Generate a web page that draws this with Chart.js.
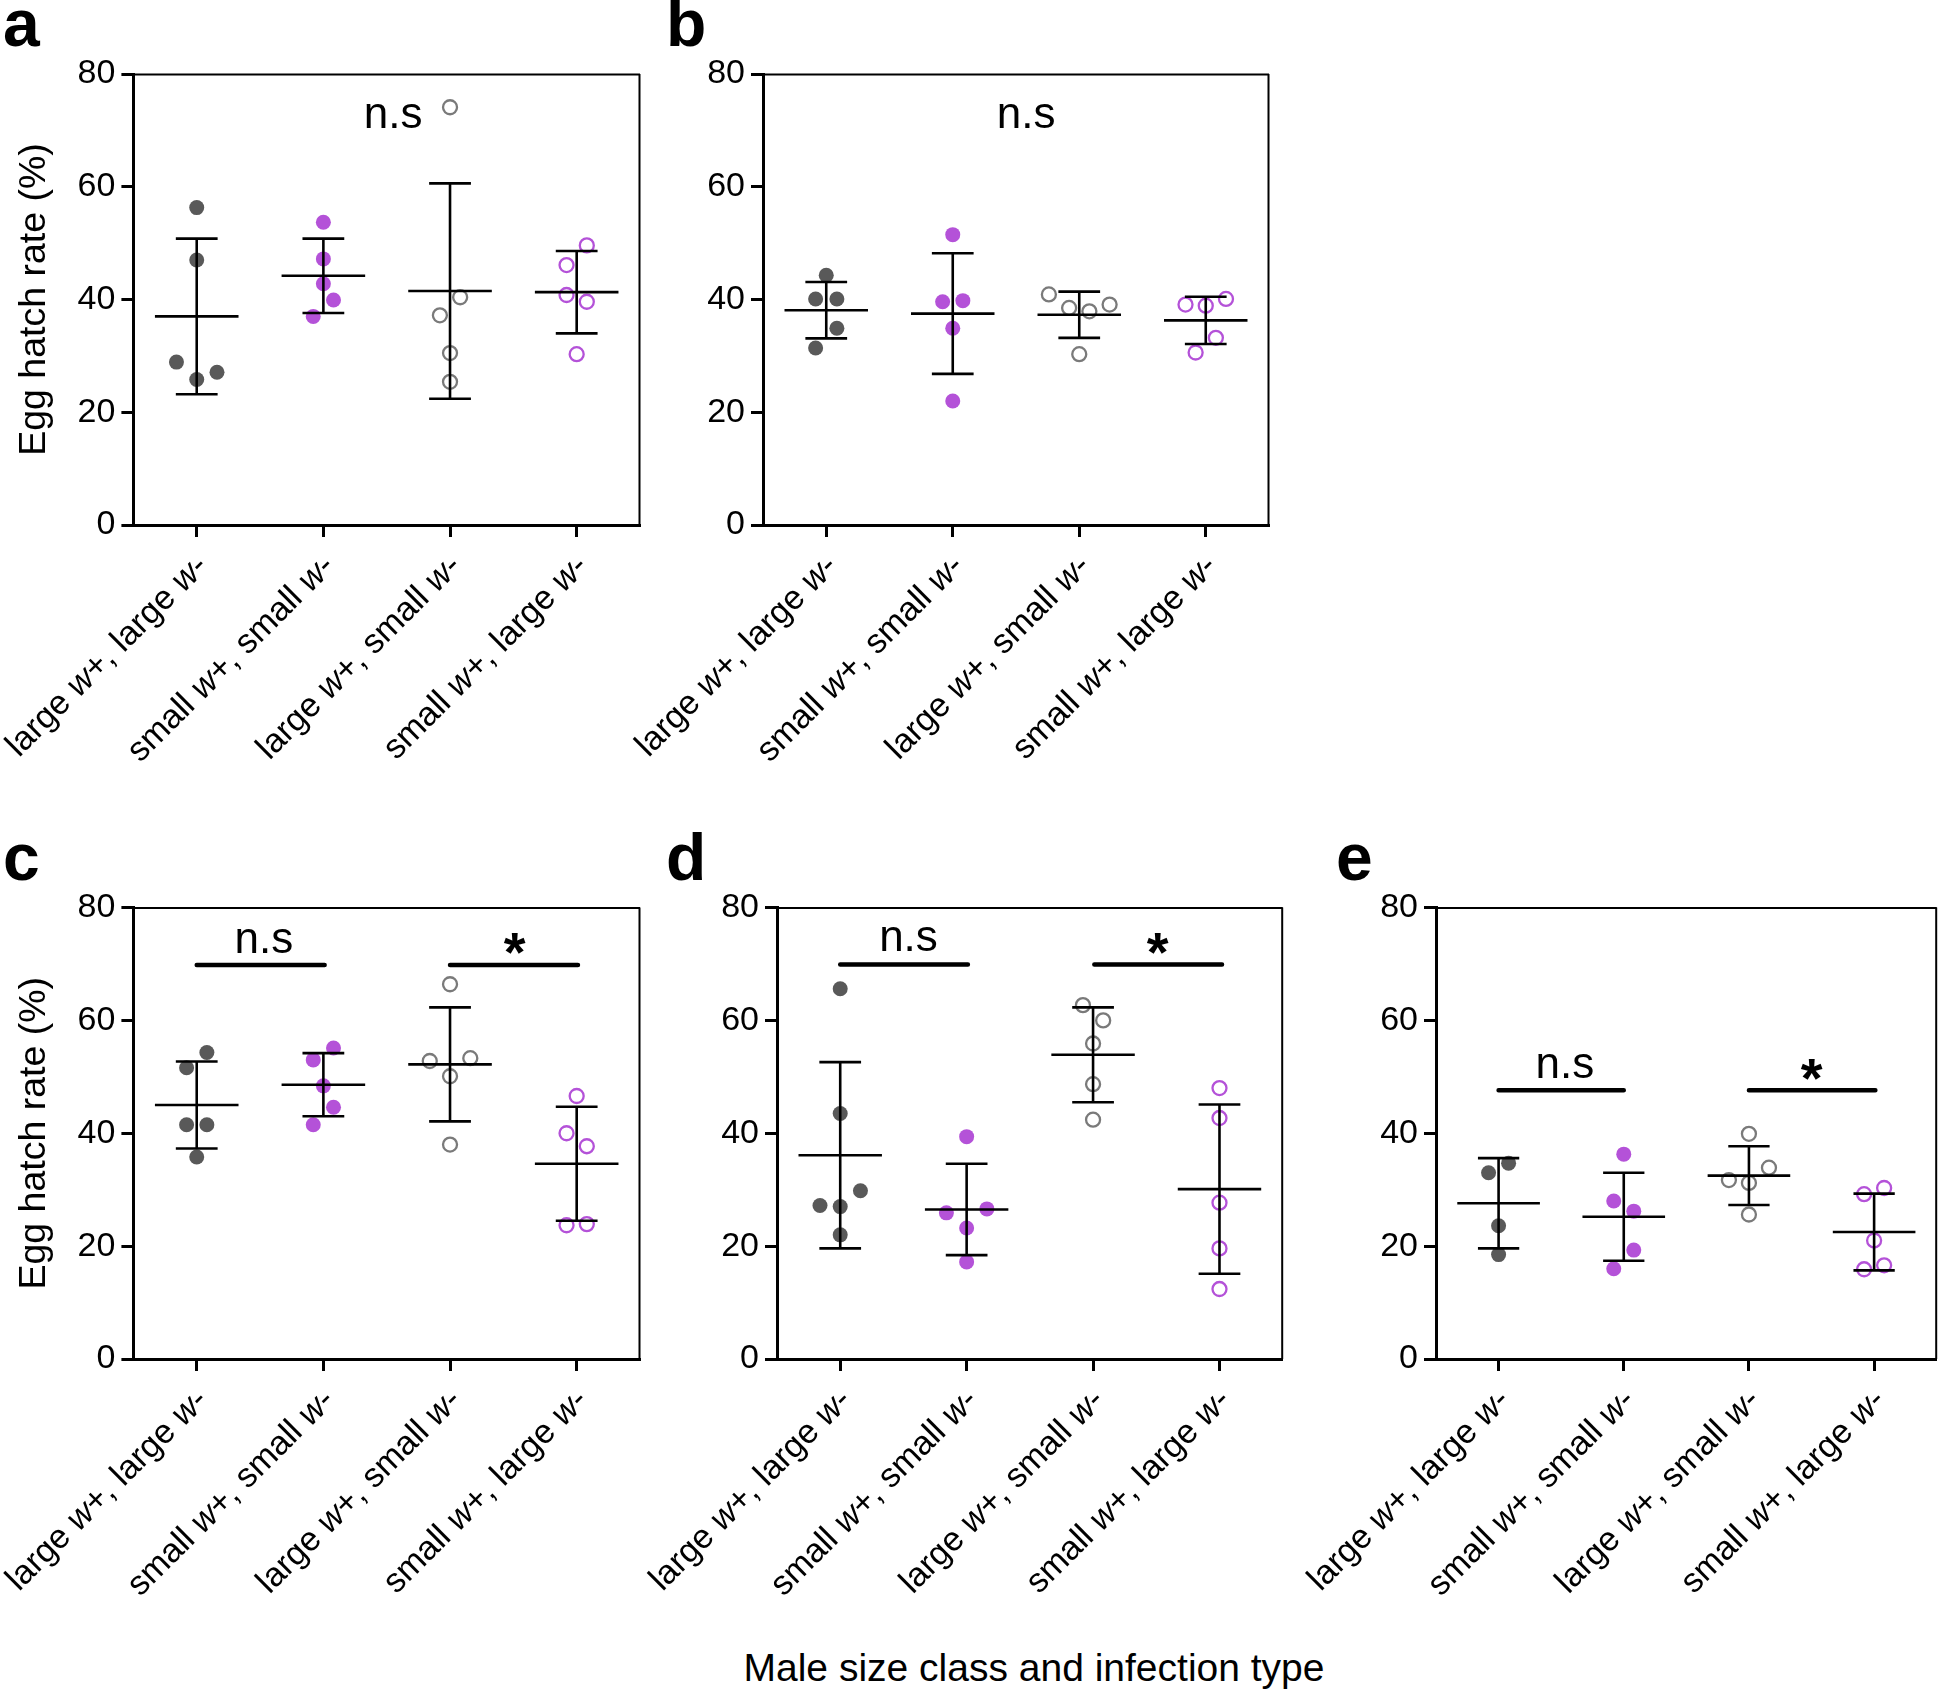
<!DOCTYPE html>
<html>
<head>
<meta charset="utf-8">
<script src="https://cdn.jsdelivr.net/npm/chart.js@4.4.1/dist/chart.umd.min.js"></script>
<style>
html,body{margin:0;padding:0;background:#fff;}
body{width:1946px;height:1691px;overflow:hidden;position:relative;font-family:"Liberation Sans",Arial,sans-serif;}
canvas{position:absolute;}
.plet{position:absolute;font-weight:bold;font-size:66px;line-height:66px;color:#000;}
#xtitle{position:absolute;left:684px;width:700px;top:1648px;text-align:center;font-size:39px;line-height:39px;color:#000;}
</style>
</head>
<body>
<div class="plet" style="left:3px;top:-10px;">a</div>
<div class="plet" style="left:666px;top:-10px;">b</div>
<div class="plet" style="left:3px;top:824px;">c</div>
<div class="plet" style="left:666px;top:824px;">d</div>
<div class="plet" style="left:1336px;top:824px;">e</div>
<div id="xtitle">Male size class and infection type</div>

<canvas id="ca" width="680" height="800" style="left:0px;top:0px;"></canvas>
<canvas id="cb" width="700" height="800" style="left:600px;top:0px;"></canvas>
<canvas id="cc" width="680" height="861" style="left:0px;top:830px;"></canvas>
<canvas id="cd" width="700" height="861" style="left:600px;top:830px;"></canvas>
<canvas id="ce" width="686" height="861" style="left:1260px;top:830px;"></canvas>

<script>
// ---------------- DATA ----------------
const categories = ['large w+, large w-', 'small w+, small w-', 'large w+, small w-', 'small w+, large w-'];
const yTickValues = [0, 20, 40, 60, 80];
const yAxisTitle = 'Egg hatch rate (%)';

// Panel a
const aValues = [
  [56.3, 47.0, 28.9, 25.8, 27.1],
  [53.7, 47.2, 42.8, 39.9, 37.0],
  [74.1, 40.4, 37.2, 30.5, 25.4],
  [49.6, 46.1, 40.8, 39.6, 30.3]
];
const aJitter = [
  [0, 0, -0.16, 0, 0.16],
  [0, 0, 0, 0.08, -0.08],
  [0, 0.08, -0.08, 0, 0],
  [0.08, -0.08, -0.08, 0.08, 0]
];
const aMean = [37.0, 44.2, 41.5, 41.3];
const aSD = [13.8, 6.6, 19.1, 7.3];
const aBrackets = [];
const aTexts = [['n.s', 2.55, 72.5]];

// Panel b
const bValues = [
  [44.3, 40.1, 40.1, 34.9, 31.4],
  [51.5, 39.6, 39.8, 34.9, 22.0],
  [40.9, 38.5, 37.9, 39.1, 30.3],
  [39.1, 38.9, 40.1, 33.2, 30.6]
];
const bJitter = [
  [0, -0.084, 0.084, 0.084, -0.084],
  [0, -0.08, 0.08, 0, 0],
  [-0.24, -0.08, 0.08, 0.24, 0],
  [-0.16, 0, 0.16, 0.08, -0.08]
];
const bMean = [38.1, 37.5, 37.3, 36.3];
const bSD = [5.0, 10.7, 4.1, 4.2];
const bBrackets = [];
const bTexts = [['n.s', 2.58, 72.5]];

// Panel c
const cValues = [
  [54.3, 51.6, 41.5, 41.5, 35.8],
  [55.1, 53.0, 48.4, 44.6, 41.5],
  [66.4, 52.8, 53.3, 50.1, 38.0],
  [46.6, 40.0, 37.7, 23.7, 23.9]
];
const cJitter = [
  [0.08, -0.08, -0.08, 0.08, 0],
  [0.08, -0.08, 0, 0.08, -0.08],
  [0, -0.16, 0.16, 0, 0],
  [0, -0.08, 0.08, -0.08, 0.08]
];
const cMean = [45.0, 48.6, 52.2, 34.6];
const cSD = [7.7, 5.6, 10.1, 10.1];
const cBrackets = [[1, 2.01, 69.8], [3, 4.01, 69.8]];
const cTexts = [['n.s', 1.53, 74.1], ['*', 3.51, 73.6]];

// Panel d
const dValues = [
  [65.6, 43.5, 29.8, 27.2, 27.0, 22.0],
  [39.4, 25.9, 26.6, 23.2, 17.2],
  [62.7, 60.0, 55.9, 48.7, 42.4],
  [48.0, 42.7, 27.7, 19.6, 12.4]
];
const dJitter = [
  [0, 0, 0.16, -0.16, 0, 0],
  [0, -0.16, 0.16, 0, 0],
  [-0.08, 0.08, 0, 0, 0],
  [0, 0, 0, 0, 0]
];
const dMean = [36.1, 26.5, 53.9, 30.1];
const dSD = [16.5, 8.1, 8.4, 15.0];
const dBrackets = [[1, 2.01, 69.9], [3.01, 4.02, 69.9]];
const dTexts = [['n.s', 1.54, 74.4], ['*', 3.51, 73.6]];

// Panel e
const eValues = [
  [34.7, 33.0, 23.6, 18.5],
  [36.3, 28.0, 26.2, 19.3, 16.0],
  [39.9, 33.9, 31.7, 31.2, 25.6],
  [30.3, 29.2, 21.0, 16.6, 15.9]
];
const eJitter = [
  [0.08, -0.08, 0, 0],
  [0, -0.08, 0.08, 0.08, -0.08],
  [0, 0.16, -0.16, 0, 0],
  [0.08, -0.08, 0, 0.08, -0.08]
];
const eMean = [27.6, 25.2, 32.5, 22.5];
const eSD = [8.0, 7.8, 5.2, 6.8];
const eBrackets = [[1, 2.0, 47.6], [3, 4.01, 47.6]];
const eTexts = [['n.s', 1.53, 51.9], ['*', 3.5, 51.3]];

// ---------------- STYLE ----------------
const FONT = '"Liberation Sans", Arial, sans-serif';
Chart.defaults.font.family = FONT;
const DARK = '#595959', PURPLE = '#b452d8', GREY = '#7a7a7a';
const groupStyles = [
  {fill: DARK, stroke: DARK, r: 7.5, bw: 0},
  {fill: PURPLE, stroke: PURPLE, r: 7.5, bw: 0},
  {fill: 'rgba(255,255,255,0)', stroke: GREY, r: 7, bw: 2.3},
  {fill: 'rgba(255,255,255,0)', stroke: PURPLE, r: 7, bw: 2.3}
];

function drawCatLabel(ctx, text, x, y) {
  const parts = text.split(/(w(?=[+\-]))/).filter(s => s.length);
  const fN = '34px ' + FONT, fI = 'italic 34px ' + FONT;
  const widths = parts.map(p => { ctx.font = (p === 'w') ? fI : fN; return ctx.measureText(p).width; });
  const total = widths.reduce((a, b) => a + b, 0);
  ctx.save();
  ctx.translate(x, y);
  ctx.rotate(-Math.PI / 4);
  ctx.textBaseline = 'middle';
  ctx.textAlign = 'left';
  ctx.fillStyle = '#000';
  let cx = -total;
  parts.forEach((p, i) => { ctx.font = (p === 'w') ? fI : fN; ctx.fillText(p, cx, 0); cx += widths[i]; });
  ctx.restore();
}

function drawCenteredText(ctx, text, font, px, py) {
  ctx.save();
  ctx.font = font;
  ctx.fillStyle = '#000';
  ctx.textAlign = 'center';
  ctx.textBaseline = 'alphabetic';
  const m = ctx.measureText(text);
  const base = py + (m.actualBoundingBoxAscent - m.actualBoundingBoxDescent) / 2;
  ctx.fillText(text, px, base);
  ctx.restore();
}

function buildChart(id, p) {
  const datasets = [];
  p.values.forEach((vals, g) => {
    const st = groupStyles[g];
    datasets.push({
      type: 'scatter',
      data: vals.map((v, i) => ({x: g + 1 + p.jitter[g][i], y: v})),
      pointRadius: st.r, pointHoverRadius: st.r,
      pointBackgroundColor: st.fill, pointBorderColor: st.stroke, pointBorderWidth: st.bw,
      showLine: false, order: 3
    });
  });
  const eb = [];
  p.mean.forEach((m, g) => {
    const c = g + 1, s = p.sd[g];
    eb.push({x: c - 0.33, y: m}, {x: c + 0.33, y: m}, {x: c, y: null},
            {x: c, y: m - s}, {x: c, y: m + s}, {x: c, y: null},
            {x: c - 0.165, y: m + s}, {x: c + 0.165, y: m + s}, {x: c, y: null},
            {x: c - 0.165, y: m - s}, {x: c + 0.165, y: m - s}, {x: c, y: null});
  });
  datasets.push({type: 'line', data: eb, borderColor: '#000', borderWidth: 2.6, pointRadius: 0,
    pointHoverRadius: 0, spanGaps: false, fill: false, tension: 0, order: 1, borderCapStyle: 'butt'});
  if (p.brackets.length) {
    const br = [];
    p.brackets.forEach(b => { br.push({x: b[0], y: b[2]}, {x: b[1], y: b[2]}, {x: b[0], y: null}); });
    datasets.push({type: 'line', data: br, borderColor: '#000', borderWidth: 4.5, pointRadius: 0,
      pointHoverRadius: 0, spanGaps: false, fill: false, tension: 0, order: 0, borderCapStyle: 'round'});
  }

  const decor = {
    id: 'decor' + id,
    afterDraw(chart) {
      const ctx = chart.ctx, a = chart.chartArea;
      const xs = chart.scales.x, ys = chart.scales.y;
      ctx.save();
      ctx.strokeStyle = '#000';
      ctx.lineWidth = 2;
      ctx.beginPath();
      ctx.moveTo(a.left, a.top + 0.5); ctx.lineTo(a.right, a.top + 0.5);
      ctx.moveTo(a.right - 0.5, a.top); ctx.lineTo(a.right - 0.5, a.bottom);
      ctx.stroke();
      ctx.restore();
      categories.forEach((c, i) => {
        drawCatLabel(ctx, c, xs.getPixelForValue(i + 1) + 6, a.bottom + 36);
      });
      p.texts.forEach(t => {
        const font = t[0] === '*' ? 'bold 56px ' + FONT : '44px ' + FONT;
        drawCenteredText(ctx, t[0], font, xs.getPixelForValue(t[1]), ys.getPixelForValue(t[2]));
      });
    }
  };

  return new Chart(document.getElementById(id), {
    type: 'scatter',
    data: {datasets},
    options: {
      responsive: false, animation: false, devicePixelRatio: 1,
      events: [],
      layout: {padding: {left: 0, top: p.padTop, right: p.padRight, bottom: 0}},
      plugins: {legend: {display: false}, tooltip: {enabled: false}},
      scales: {
        x: {
          type: 'linear', min: 0.5, max: 4.5,
          afterBuildTicks: s => { s.ticks = categories.map((c, i) => ({value: i + 1})); },
          afterFit: s => { s.height = p.xH; },
          ticks: {display: false},
          grid: {drawOnChartArea: false, drawTicks: true, tickLength: 12, tickWidth: 3, tickColor: '#000'},
          border: {display: true, color: '#000', width: 3}
        },
        y: {
          type: 'linear', min: 0, max: 80,
          afterBuildTicks: s => { s.ticks = yTickValues.map(v => ({value: v})); },
          afterFit: s => { s.width = p.yW; },
          ticks: {font: {family: FONT, size: 34}, color: '#000', padding: 6},
          grid: {drawOnChartArea: false, drawTicks: true, tickLength: 12, tickWidth: 3, tickColor: '#000'},
          border: {display: true, color: '#000', width: 3},
          title: {display: p.showTitle, text: yAxisTitle, color: '#000',
                  font: {family: FONT, size: 37.5}, padding: {top: 12, bottom: 0}}
        }
      }
    },
    plugins: [decor]
  });
}

buildChart('ca', {values: aValues, jitter: aJitter, mean: aMean, sd: aSD, brackets: aBrackets, texts: aTexts,
  padTop: 74, padRight: 40, yW: 133.4, xH: 275, showTitle: true});
buildChart('cb', {values: bValues, jitter: bJitter, mean: bMean, sd: bSD, brackets: bBrackets, texts: bTexts,
  padTop: 74, padRight: 31, yW: 163, xH: 275, showTitle: false});
buildChart('cc', {values: cValues, jitter: cJitter, mean: cMean, sd: cSD, brackets: cBrackets, texts: cTexts,
  padTop: 77.5, padRight: 40, yW: 133.4, xH: 332, showTitle: true});
buildChart('cd', {values: dValues, jitter: dJitter, mean: dMean, sd: dSD, brackets: dBrackets, texts: dTexts,
  padTop: 77.5, padRight: 17.3, yW: 177, xH: 332, showTitle: false});
buildChart('ce', {values: eValues, jitter: eJitter, mean: eMean, sd: eSD, brackets: eBrackets, texts: eTexts,
  padTop: 77.5, padRight: 3.2, yW: 176, xH: 332, showTitle: false});
</script>
</body>
</html>
